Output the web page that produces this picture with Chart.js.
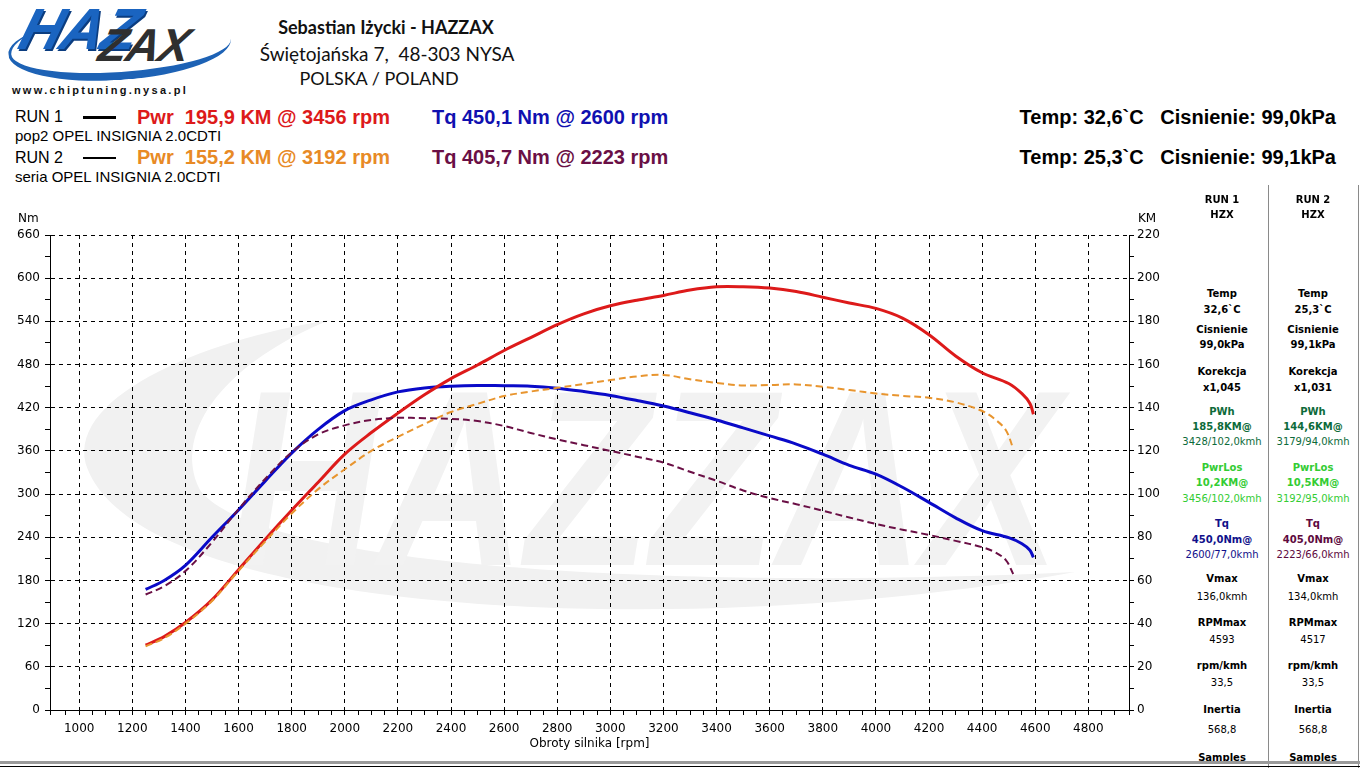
<!DOCTYPE html>
<html>
<head>
<meta charset="utf-8">
<title>HAZZAX dyno</title>
<script src="https://cdn.jsdelivr.net/npm/chart.js@4.4.0/dist/chart.umd.min.js"></script>
<style>
    body { margin: 0; width: 1360px; height: 768px; overflow: hidden; position: relative; background: #fff; font-family: "Liberation Sans", Arial, sans-serif; }
    .txt { position: absolute; white-space: pre; line-height: 1; }
    #chartBox { position: absolute; left: 0; top: 200px; width: 1175px; height: 560px; }
</style>
</head>
<body>
<div id="chartBox"><canvas id="dyno"></canvas></div>

<script>
// RUN 1 (pop2) - solid lines
const rpm1 = [1250, 1320, 1400, 1500, 1600, 1700, 1800, 1900, 2000, 2100, 2200, 2300, 2400, 2500, 2600, 2700, 2800, 2900, 3000, 3100, 3200, 3300, 3400, 3500, 3600, 3700, 3800, 3900, 4000, 4100, 4200, 4300, 4400, 4500, 4550, 4580, 4593];
const pwr1 = [30, 34, 40.5, 51, 65, 79, 92.5, 105.5, 118.5, 128.5, 137.5, 146, 153.5, 159.8, 166.5, 172.5, 178.5, 183.5, 187.2, 189.8, 192, 194.5, 196, 196, 195.4, 193.8, 191.2, 188.5, 186, 181.5, 173.8, 164, 156.2, 151.2, 146.5, 142, 137];
const tq1 = [167.5, 180, 201, 240, 278, 318, 357, 390, 416, 431, 442, 447.5, 450, 451, 450.5, 450, 447.2, 442.5, 437, 430, 422.3, 413, 403, 392, 380.8, 369.5, 355.4, 340, 327.7, 309.5, 288.5, 267, 249.2, 239.5, 231, 222, 212];

// RUN 2 (seria) - dashed lines
const rpm2 = [1250, 1320, 1400, 1500, 1600, 1700, 1800, 1900, 2000, 2100, 2200, 2300, 2400, 2500, 2600, 2700, 2800, 2900, 3000, 3100, 3200, 3300, 3400, 3500, 3600, 3700, 3800, 3900, 4000, 4100, 4200, 4300, 4400, 4450, 4490, 4517];
const pwr2 = [29.5, 33.3, 40, 50.5, 64.5, 78, 91, 102.3, 111.5, 120, 126.5, 132.5, 138, 141.8, 145.4, 147.5, 149.2, 151, 152.8, 154.5, 155.2, 153.2, 151.5, 150.3, 150.5, 150.8, 149.7, 148.2, 146.6, 145.5, 144.6, 142.5, 138.5, 134.5, 129.5, 121];
const tq2 = [160.5, 172, 193, 233, 279, 321, 358, 383, 395.5, 403, 406, 405.5, 404.5, 401.5, 394.6, 385, 376, 368, 360, 352, 343.8, 331, 318.5, 305, 294.5, 286, 276.9, 267.5, 258.5, 250.5, 243.2, 235, 226.2, 219, 208, 189];

// axis ranges
const rpmMin = 890, rpmMax = 4953;
const tqMax = 660, pwrMax = 220;

// side table
const panelRows = [
    [199, 'RUN 1', 'RUN 2', 'b'],
    [214, 'HZX', 'HZX', 'b'],
    [293, 'Temp', 'Temp', 'b'],
    [309, '32,6`C', '25,3`C', 'b'],
    [329, 'Cisnienie', 'Cisnienie', 'b'],
    [344, '99,0kPa', '99,1kPa', 'b'],
    [371, 'Korekcja', 'Korekcja', 'b'],
    [387, 'x1,045', 'x1,031', 'b'],
    [411, 'PWh', 'PWh', 'b', '#0d6b3a'],
    [426, '185,8KM@', '144,6KM@', 'b', '#0d6b3a'],
    [441, '3428/102,0kmh', '3179/94,0kmh', 'r', '#0d6b3a'],
    [467, 'PwrLos', 'PwrLos', 'b', '#33cc33'],
    [482, '10,2KM@', '10,5KM@', 'b', '#33cc33'],
    [498, '3456/102,0kmh', '3192/95,0kmh', 'r', '#33cc33'],
    [523, 'Tq', 'Tq', 'b', 'tq'],
    [539, '450,0Nm@', '405,0Nm@', 'b', 'tq'],
    [554, '2600/77,0kmh', '2223/66,0kmh', 'r', 'tq'],
    [578, 'Vmax', 'Vmax', 'b'],
    [596, '136,0kmh', '134,0kmh', 'r'],
    [622, 'RPMmax', 'RPMmax', 'b'],
    [639, '4593', '4517', 'r'],
    [665, 'rpm/kmh', 'rpm/kmh', 'b'],
    [682, '33,5', '33,5', 'r'],
    [709, 'Inertia', 'Inertia', 'b'],
    [729, '568,8', '568,8', 'r'],
    [757, 'Samples', 'Samples', 'b']
];

/**
 * Put a text line on the page, centred vertically on y
 */
function addText(text, x, y, css, align) {
    const el = document.createElement('div');
    el.className = 'txt';
    el.textContent = text;
    el.style.left = x + 'px';
    el.style.top = y + 'px';
    Object.assign(el.style, css);
    const tx = align === 'center' ? '-50%' : (align === 'right' ? '-100%' : '0');
    el.style.transform = `translate(${tx}, -50%)` + (css.extraTransform || '');
    document.body.appendChild(el);
    return el;
}

function addBox(css) {
    const el = document.createElement('div');
    el.style.position = 'absolute';
    Object.assign(el.style, css);
    document.body.appendChild(el);
    return el;
}

// ---- logo ----
addBox({ left: '8px', top: '14px', width: '220px', height: '58px', borderBottom: '8px solid #1d62b5', borderLeft: '3px solid #1d62b5', borderRadius: '50%', transform: 'rotate(-4deg)' });
addText('HAZ', 22, 28, { font: 'italic bold 58px "Liberation Sans"', color: '#1a64c0', textShadow: '2px 2px 0 #0b3d80', letterSpacing: '-1px', extraTransform: ' skewX(-16deg)' }, 'left');
addText('ZAX', 100, 45, { font: 'italic bold 46px "Liberation Sans"', color: '#2f2f2f', letterSpacing: '-1px', extraTransform: ' skewX(-12deg)' }, 'left');
addText('www.chiptuning.nysa.pl', 12, 90, { font: 'bold 11px "Liberation Sans"', color: '#111', letterSpacing: '2.3px' }, 'left');

// ---- workshop header ----
addText('Sebastian Iżycki - HAZZAX', 386, 27, { font: 'bold 18px Lato', color: '#111' }, 'center');
addText('Świętojańska 7,  48-303 NYSA', 387, 53, { font: '19px Lato', color: '#111' }, 'center');
addText('POLSKA / POLAND', 379, 78, { font: '18px Lato', color: '#111' }, 'center');

// ---- run legend ----
const narrow = '"Liberation Sans Narrow", "Liberation Sans"';
addText('RUN 1', 15, 117, { font: `16px ${narrow}`, color: '#000' }, 'left');
addText('pop2 OPEL INSIGNIA 2.0CDTI', 15, 135, { font: `15px ${narrow}`, color: '#000' }, 'left');
addText('RUN 2', 15, 158, { font: `16px ${narrow}`, color: '#000' }, 'left');
addText('seria OPEL INSIGNIA 2.0CDTI', 15, 176, { font: `15px ${narrow}`, color: '#000' }, 'left');
addBox({ left: '83px', top: '116px', width: '33px', height: '3px', background: '#000' });
addBox({ left: '83px', top: '157px', width: '33px', height: '2px', background: '#000' });

const bigFont = 'bold 20px "Liberation Sans"';
addText('Pwr  195,9 KM @ 3456 rpm', 137, 117, { font: bigFont, color: '#dd1a1a' }, 'left');
addText('Tq 450,1 Nm @ 2600 rpm', 432, 117, { font: bigFont, color: '#1010b0' }, 'left');
addText('Pwr  155,2 KM @ 3192 rpm', 137, 157, { font: bigFont, color: '#e88a25' }, 'left');
addText('Tq 405,7 Nm @ 2223 rpm', 432, 157, { font: bigFont, color: '#6a0f45' }, 'left');
addText('Temp: 32,6`C   Cisnienie: 99,0kPa', 1336, 117, { font: bigFont, color: '#000' }, 'right');
addText('Temp: 25,3`C   Cisnienie: 99,1kPa', 1336, 157, { font: bigFont, color: '#000' }, 'right');

// ---- axis unit labels ----
addText('Nm', 18, 218, { font: '12px "DejaVu Sans"', color: '#000' }, 'left');
addText('KM', 1138, 218, { font: '12px "DejaVu Sans"', color: '#000' }, 'left');

// ---- side table ----
addBox({ left: '1268px', top: '185px', width: '1px', height: '583px', background: '#8a8a8a' });
addBox({ left: '1358px', top: '185px', width: '1px', height: '583px', background: '#8a8a8a' });
panelRows.forEach(row => {
    const [y, t1, t2, weight, color] = row;
    const font = weight === 'b' ? 'bold 10px "DejaVu Sans"' : '10px "DejaVu Sans"';
    const c1 = color === 'tq' ? '#10108a' : (color || '#000');
    const c2 = color === 'tq' ? '#5e0a3e' : (color || '#000');
    addText(t1, 1222, y, { font: font, color: c1 }, 'center');
    addText(t2, 1313, y, { font: font, color: c2 }, 'center');
});

// bottom frame
addBox({ left: '0', top: '761px', width: '1360px', height: '3px', background: '#9a9a9a' });
addBox({ left: '0', top: '766px', width: '1360px', height: '1px', background: '#000' });

// ---- chart ----
const toPoints = (xs, ys) => xs.map((x, i) => ({ x: x, y: ys[i] }));

// light grey background logo behind the grid
const watermark = {
    id: 'watermark',
    beforeDraw(chart) {
        const ctx = chart.ctx;
        ctx.save();
        ctx.fillStyle = '#f1f1f1';
        ctx.beginPath();
        ctx.moveTo(1075, 372);
        ctx.bezierCurveTo(700, 440, 150, 420, 88, 270);
        ctx.bezierCurveTo(60, 200, 200, 140, 330, 120);
        ctx.bezierCurveTo(230, 160, 170, 230, 200, 290);
        ctx.bezierCurveTo(260, 370, 700, 390, 1075, 372);
        ctx.fill();
        ctx.font = 'italic bold 250px "Liberation Sans"';
        ctx.fillStyle = '#f2f2f2';
        ctx.fillText('HAZZAX', 230, 365, 830);
        ctx.restore();
    }
};

const tickFont = { family: 'DejaVu Sans', size: 12 };

const ctx = document.getElementById('dyno').getContext('2d');
const dynoChart = new Chart(ctx, {
    type: 'line',
    data: {
        datasets: [
            { label: 'Pwr RUN 2', data: toPoints(rpm2, pwr2), yAxisID: 'yPwr', borderColor: '#e8952f', borderWidth: 2, borderDash: [7, 4] },
            { label: 'Tq RUN 2', data: toPoints(rpm2, tq2), yAxisID: 'yTq', borderColor: '#6a0f45', borderWidth: 2, borderDash: [7, 4] },
            { label: 'Pwr RUN 1', data: toPoints(rpm1, pwr1), yAxisID: 'yPwr', borderColor: '#dd1a1a', borderWidth: 3 },
            { label: 'Tq RUN 1', data: toPoints(rpm1, tq1), yAxisID: 'yTq', borderColor: '#0a0ac8', borderWidth: 3 }
        ]
    },
    options: {
        responsive: true,
        maintainAspectRatio: false,
        animation: false,
        layout: { padding: { top: 35, left: 0, right: 0, bottom: 0 } },
        elements: { point: { radius: 0 }, line: { tension: 0.35, fill: false } },
        plugins: { legend: { display: false }, tooltip: { enabled: false } },
        scales: {
            x: {
                type: 'linear',
                min: rpmMin,
                max: rpmMax,
                afterFit: s => { s.height = 50; },
                ticks: {
                    stepSize: 50,
                    maxTicksLimit: 1000,
                    autoSkip: false,
                    maxRotation: 0,
                    padding: 7,
                    color: '#000',
                    font: tickFont,
                    callback: v => (v % 200 === 0 && v >= 1000 && v <= 4800) ? String(v) : ''
                },
                grid: {
                    color: c => (c.tick && c.tick.value % 200 === 0) ? '#000' : 'rgba(0,0,0,0)',
                    tickColor: '#000',
                    tickLength: 5
                },
                border: { color: '#000', dash: [4, 4] },
                title: { display: true, text: 'Obroty silnika [rpm]', color: '#000', font: tickFont, padding: { top: 0, bottom: 9 } }
            },
            yTq: {
                position: 'left',
                min: 0,
                max: tqMax,
                afterFit: s => { s.width = 50; },
                ticks: {
                    stepSize: 30,
                    maxTicksLimit: 1000,
                    autoSkip: false,
                    padding: 5,
                    color: '#000',
                    font: tickFont,
                    callback: v => v % 60 === 0 ? String(v) : ''
                },
                grid: {
                    color: c => (c.tick && c.tick.value % 60 === 0) ? '#000' : 'rgba(0,0,0,0)',
                    tickColor: '#000',
                    tickLength: 5
                },
                border: { color: '#000', dash: [4, 4] }
            },
            yPwr: {
                position: 'right',
                min: 0,
                max: pwrMax,
                afterFit: s => { s.width = 46; },
                ticks: {
                    stepSize: 10,
                    maxTicksLimit: 1000,
                    autoSkip: false,
                    padding: 3,
                    color: '#000',
                    font: tickFont,
                    callback: v => v % 20 === 0 ? String(v) : ''
                },
                grid: { drawOnChartArea: false, tickColor: '#000', tickLength: 5 },
                border: { color: '#000' }
            }
        }
    },
    plugins: [watermark]
});
</script>
</body>
</html>
